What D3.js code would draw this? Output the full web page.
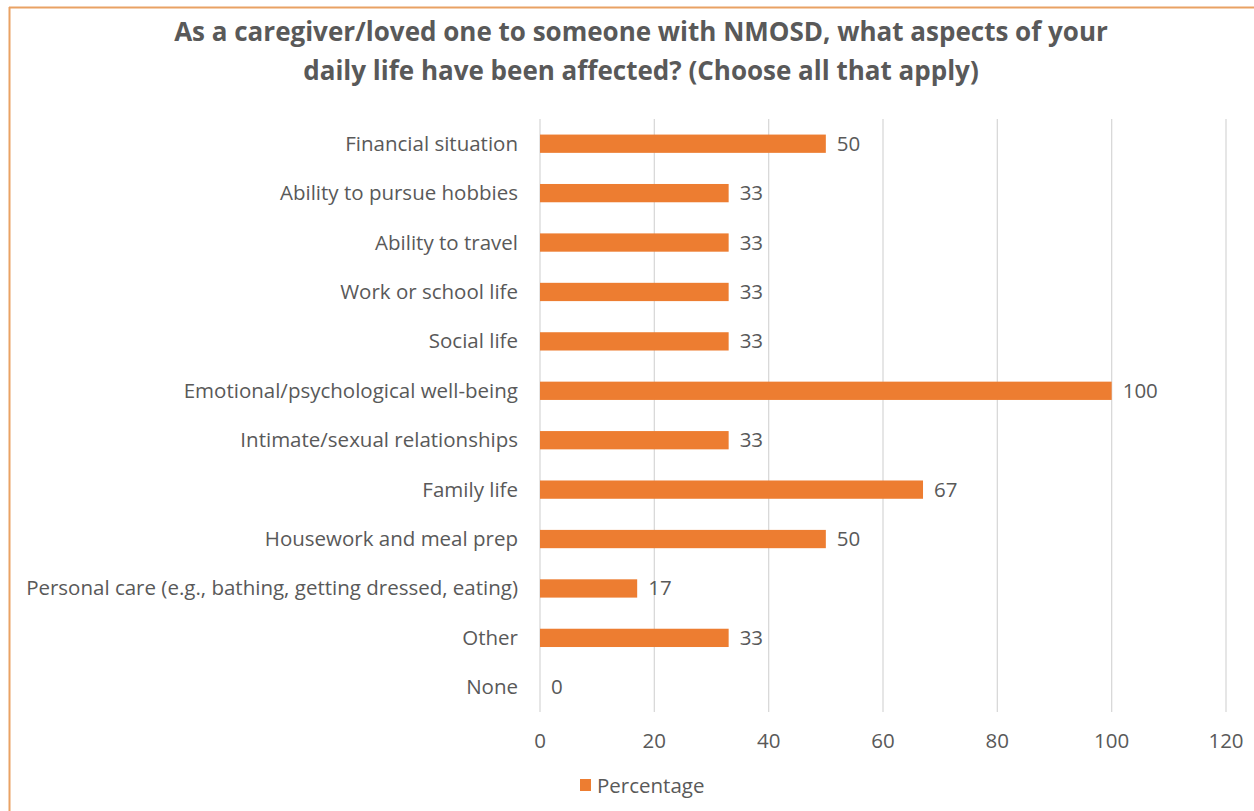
<!DOCTYPE html>
<html><head><meta charset="utf-8">
<script src="https://cdn.jsdelivr.net/npm/d3@7"></script>
<style>body{margin:0;background:#fff}svg{display:block}text{font-family:"Open Sans",sans-serif}</style>
</head><body><svg id="c" width="1254" height="811"></svg>
<script>
const categories = ["Financial situation","Ability to pursue hobbies","Ability to travel","Work or school life","Social life","Emotional/psychological well-being","Intimate/sexual relationships","Family life","Housework and meal prep","Personal care (e.g., bathing, getting dressed, eating)","Other","None"];
const values = [50,33,33,33,33,100,33,67,50,17,33,0];
const xTicks = [0,20,40,60,80,100,120];
const titleLines = ["As a caregiver/loved one to someone with NMOSD, what aspects of your","daily life have been affected? (Choose all that apply)"];
const seriesName = "Percentage";

const svg = d3.select("#c");
const orange = "#ED7D31", gray = "#595959";
const fs = 20.5;
// frame
svg.append("line").attr("x1",9).attr("x2",1254).attr("y1",7.5).attr("y2",7.5).attr("stroke","#E9A264").attr("stroke-width",2);
svg.append("line").attr("x1",9.5).attr("x2",9.5).attr("y1",7).attr("y2",811).attr("stroke","#E9A264").attr("stroke-width",2);

const x = d3.scaleLinear().domain([0,120]).range([540,1226]);
const y = d3.scaleBand().domain(categories).range([119,712]).paddingInner(0.63).paddingOuter(0.315);

svg.append("g").selectAll("line").data(xTicks).join("line")
  .attr("x1",d=>x(d)).attr("x2",d=>x(d)).attr("y1",119).attr("y2",712)
  .attr("stroke","#D9D9D9").attr("stroke-width",1.3);

svg.append("g").selectAll("text").data(xTicks).join("text")
  .attr("x",d=>x(d)).attr("y",748).attr("text-anchor","middle")
  .attr("font-size",fs).attr("fill",gray).text(d=>d);

svg.append("g").selectAll("rect").data(values).join("rect")
  .attr("x",x(0)).attr("y",(d,i)=>y(categories[i]))
  .attr("width",d=>x(d)-x(0)).attr("height",y.bandwidth()).attr("fill",orange);

svg.append("g").selectAll("text").data(values).join("text")
  .attr("x",d=>x(d)+11).attr("y",(d,i)=>y(categories[i])+y.bandwidth()/2+7)
  .attr("font-size",fs).attr("fill",gray).text(d=>d);

svg.append("g").selectAll("text").data(categories).join("text")
  .attr("x",518).attr("y",d=>y(d)+y.bandwidth()/2+7).attr("text-anchor","end")
  .attr("font-size",fs).attr("fill",gray).text(d=>d);

svg.append("g").selectAll("text").data(titleLines).join("text")
  .attr("x",641).attr("y",(d,i)=>41+i*39).attr("text-anchor","middle")
  .attr("font-size",26).attr("font-weight","bold").attr("fill",gray).text(d=>d);

svg.append("rect").attr("x",580).attr("y",779).attr("width",11).attr("height",12).attr("fill",orange);
svg.append("text").attr("x",597).attr("y",793).attr("font-size",fs).attr("fill",gray).text(seriesName);
</script></body></html>
